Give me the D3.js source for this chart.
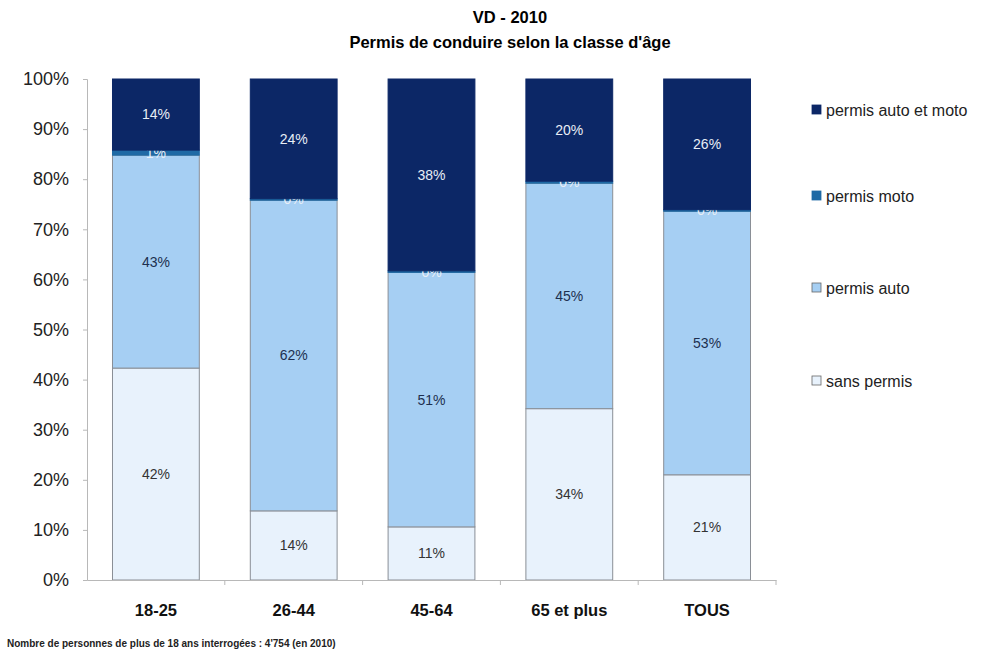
<!DOCTYPE html>
<html>
<head>
<meta charset="utf-8">
<script src="https://cdn.jsdelivr.net/npm/d3@7"></script>
<style>
  body { margin: 0; background: #fff; }
  svg { font-family: "Liberation Sans", Arial, sans-serif; }
</style>
</head>
<body>
<div id="chart"></div>
<script>
// data (percent shares, stacked bottom to top)
var categories = ["18-25", "26-44", "45-64", "65 et plus", "TOUS"];
var sansPermis = [42.3, 13.8, 10.6, 34.2, 21.0];
var permisAuto = [42.5, 62.0, 50.8, 45.0, 52.6];
var permisMoto = [1.0, 0.3, 0.3, 0.4, 0.3];
var permisAutoMoto = [14.2, 23.9, 38.3, 20.4, 26.1];
var seriesNames = ["sans permis", "permis auto", "permis moto", "permis auto et moto"];
var yTicks = [0, 10, 20, 30, 40, 50, 60, 70, 80, 90, 100];

var svgWidth = 999;
var svgHeight = 654;

var svg = d3.select("#chart")
  .append("svg")
  .attr("width", svgWidth)
  .attr("height", svgHeight);

var rows = categories.map(function(c, i) {
  return {
    cat: c,
    "sans permis": sansPermis[i],
    "permis auto": permisAuto[i],
    "permis moto": permisMoto[i],
    "permis auto et moto": permisAutoMoto[i]
  };
});

var stack = d3.stack().keys(seriesNames);
var layers = stack(rows);

var x = d3.scaleBand()
  .domain(categories)
  .range([87, 776])
  .paddingInner(0.37)
  .paddingOuter(0.185);

var y = d3.scaleLinear()
  .domain([0, 100])
  .range([580, 79]);

var fills = {
  "sans permis": "#e8f2fc",
  "permis auto": "#a6cff3",
  "permis moto": "#1f6aa5",
  "permis auto et moto": "#0c2766"
};
var labelColors = {
  "sans permis": "#333",
  "permis auto": "#1d2f4f",
  "permis moto": "#e8eef6",
  "permis auto et moto": "#e8eef6"
};

// title
svg.append("text")
  .attr("x", 510).attr("y", 23)
  .attr("text-anchor", "middle")
  .style("font-size", "16.5px").style("font-weight", "bold")
  .text("VD - 2010");
svg.append("text")
  .attr("x", 510).attr("y", 48)
  .attr("text-anchor", "middle")
  .style("font-size", "16.5px").style("font-weight", "bold")
  .text("Permis de conduire selon la classe d'âge");

// bars
var layerGroups = svg.selectAll("g.layer")
  .data(layers)
  .enter()
  .append("g")
  .attr("class", "layer");

layerGroups.selectAll("rect")
  .data(function(d) { return d.map(function(p) { p.key = d.key; return p; }); })
  .enter()
  .append("rect")
  .attr("x", function(d) { return x(d.data.cat); })
  .attr("y", function(d) { return y(d[1]); })
  .attr("width", x.bandwidth())
  .attr("height", function(d) { return y(d[0]) - y(d[1]); })
  .attr("fill", function(d) { return fills[d.key]; })
  .attr("stroke", function(d) { return d.key === "sans permis" || d.key === "permis auto" ? "#8a8f96" : fills[d.key]; })
  .attr("stroke-width", 1);

// value labels
var fmt = function(v) { return Math.round(v) + "%"; };
layerGroups.selectAll("text")
  .data(function(d) { return d.map(function(p) { p.key = d.key; return p; }); })
  .enter()
  .append("text")
  .attr("x", function(d) { return x(d.data.cat) + x.bandwidth() / 2; })
  .attr("y", function(d) { return (y(d[0]) + y(d[1])) / 2; })
  .attr("dy", "0.35em")
  .attr("text-anchor", "middle")
  .style("font-size", "14px")
  .attr("fill", function(d) { return labelColors[d.key]; })
  .text(function(d) { return fmt(d[1] - d[0]); });

// axes
var leftAxis = d3.axisLeft(y)
  .tickValues(yTicks)
  .tickSize(4)
  .tickFormat(function(d) { return d + "%"; });

var yAxisG = svg.append("g")
  .attr("transform", "translate(87,0)")
  .call(leftAxis);
yAxisG.select(".domain").attr("stroke", "#b8b8b8");
yAxisG.selectAll(".tick line").attr("stroke", "#b8b8b8");
yAxisG.selectAll(".tick text")
  .attr("x", -18)
  .style("font-size", "18px")
  .style("font-family", "Liberation Sans, Arial, sans-serif")
  .attr("fill", "#222");

var bottomAxis = d3.axisBottom(x).tickSize(0);
var xAxisG = svg.append("g")
  .attr("transform", "translate(0,580)")
  .call(bottomAxis);
xAxisG.select(".domain").attr("stroke", "#b8b8b8");
xAxisG.selectAll(".tick text")
  .attr("y", 24)
  .style("font-size", "16.5px")
  .style("font-weight", "bold")
  .style("font-family", "Liberation Sans, Arial, sans-serif")
  .attr("fill", "#111");

// separators between categories on the x axis
var step = x.step();
xAxisG.selectAll("line.sep")
  .data(categories.slice(1).concat(["end"]))
  .enter()
  .append("line")
  .attr("class", "sep")
  .attr("x1", function(d, i) { return 87 + (i + 1) * step; })
  .attr("x2", function(d, i) { return 87 + (i + 1) * step; })
  .attr("y1", 0)
  .attr("y2", 5)
  .attr("stroke", "#b8b8b8");

// legend, top series first
var legendY = [110, 196, 288, 381];
var legend = svg.selectAll("g.legend")
  .data(seriesNames.slice().reverse())
  .enter()
  .append("g")
  .attr("class", "legend")
  .attr("transform", function(d, i) { return "translate(812," + legendY[i] + ")"; });

legend.append("rect")
  .attr("x", 0).attr("y", -5)
  .attr("width", 9).attr("height", 9)
  .attr("fill", function(d) { return fills[d]; })
  .attr("stroke", function(d) { return d === "sans permis" || d === "permis auto" ? "#666" : fills[d]; })
  .attr("stroke-width", 0.8);

legend.append("text")
  .attr("x", 14)
  .attr("dy", "0.35em")
  .style("font-size", "16px")
  .attr("fill", "#222")
  .text(function(d) { return d; });

// footnote
svg.append("text")
  .attr("x", 7).attr("y", 647)
  .style("font-size", "10px")
  .style("font-weight", "bold")
  .attr("fill", "#222")
  .text("Nombre de personnes de plus de 18 ans interrogées : 4'754 (en 2010)");
</script>
</body>
</html>
